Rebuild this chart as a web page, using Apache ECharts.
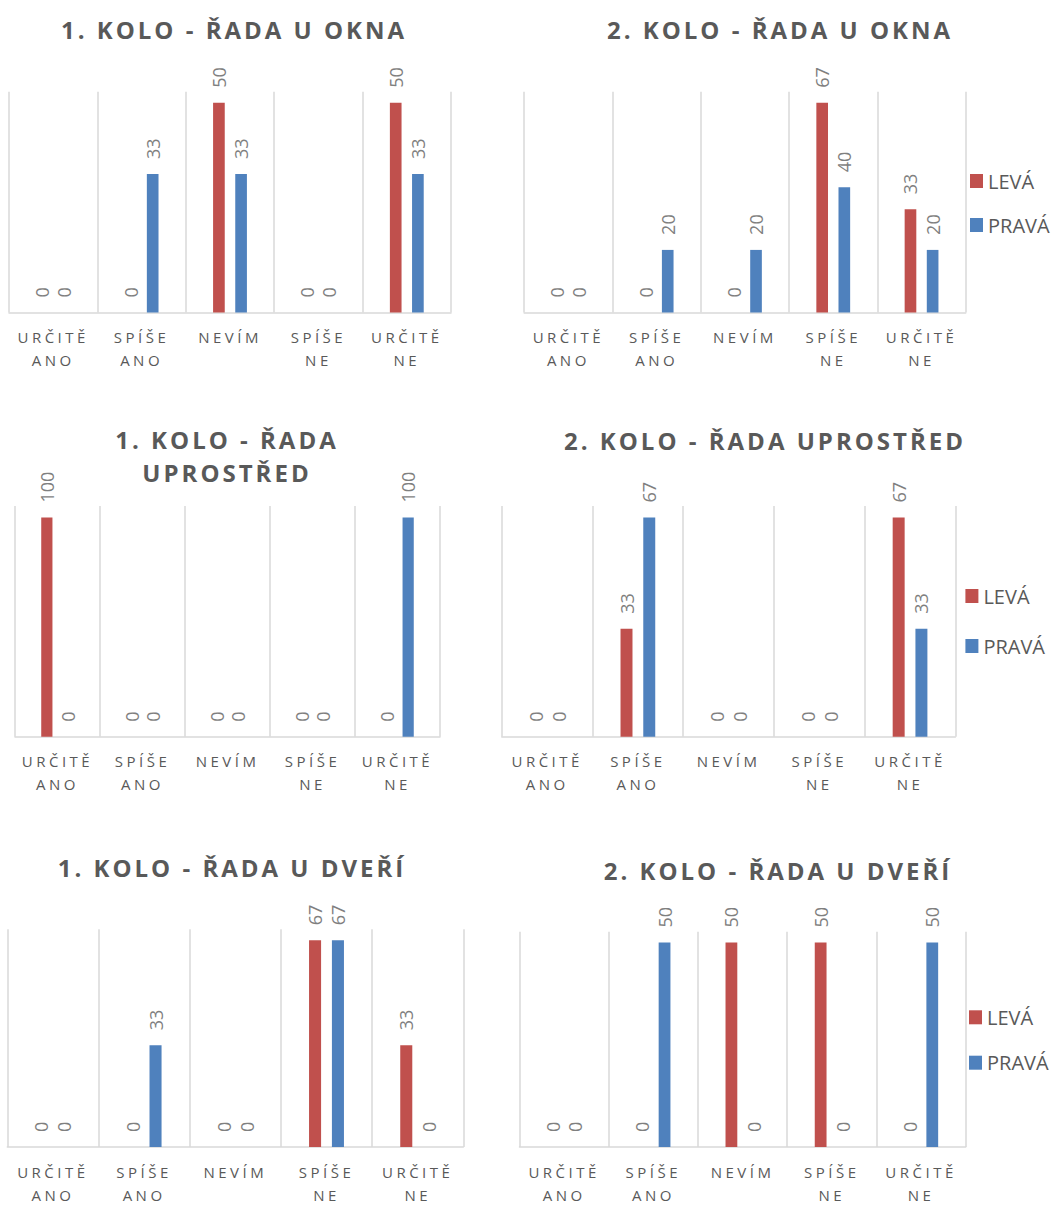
<!DOCTYPE html>
<html><head><meta charset="utf-8">
<script src="https://cdn.jsdelivr.net/npm/echarts@6/dist/echarts.min.js"></script>
<style>
html,body{margin:0;padding:0;background:#fff}
#c{width:1057px;height:1206px}
#c text[style*="24px"]{letter-spacing:3px}
#c text[style*="15px"]{letter-spacing:3.5px}
</style></head><body><div id="c"></div>
<script>
// ---- data ----
const categories = ['URČITĚ\nANO', 'SPÍŠE\nANO', 'NEVÍM', 'SPÍŠE\nNE', 'URČITĚ\nNE'];
const seriesNames = ['LEVÁ', 'PRAVÁ'];
const titles = [
  '1. KOLO - ŘADA U OKNA',
  '2. KOLO - ŘADA U OKNA',
  '1. KOLO - ŘADA\nUPROSTŘED',
  '2. KOLO - ŘADA UPROSTŘED',
  '1. KOLO - ŘADA U DVEŘÍ',
  '2. KOLO - ŘADA U DVEŘÍ'
];
const leva1 = [0, 0, 50, 0, 50];
const prava1 = [0, 33, 33, 0, 33];
const leva2 = [0, 0, 0, 67, 33];
const prava2 = [0, 20, 20, 40, 20];
const leva3 = [100, 0, 0, 0, 0];
const prava3 = [0, 0, 0, 0, 100];
const leva4 = [0, 33, 0, 0, 67];
const prava4 = [0, 67, 0, 0, 33];
const leva5 = [0, 0, 0, 67, 33];
const prava5 = [0, 33, 0, 67, 0];
const leva6 = [0, 0, 50, 50, 0];
const prava6 = [0, 50, 0, 0, 50];
const levaAll = [leva1, leva2, leva3, leva4, leva5, leva6];
const pravaAll = [prava1, prava2, prava3, prava4, prava5, prava6];

// ---- layout / style ----
const RED = '#C0504D', BLUE = '#4F81BD';
const GRID_COLOR = '#d9d9d9', TEXT = '#595959', LABEL = '#7f7f7f';
const FONT = 'Open Sans';
const layout = [
  {grid: {left: 9, top: 91.7, width: 442, height: 220.8}, tx: 234, ty: 12.5, legend: null},
  {grid: {left: 524.2, top: 91.7, width: 441.5, height: 220.8}, tx: 780, ty: 12.5, legend: {left: 970, top: 171, gap: 24}},
  {grid: {left: 15, top: 506, width: 425, height: 230.7}, tx: 227, ty: 423, legend: null},
  {grid: {left: 501.8, top: 506, width: 453.6, height: 230.7}, tx: 765, ty: 423.5, legend: {left: 965.4, top: 586, gap: 30}},
  {grid: {left: 7.3, top: 929.3, width: 456, height: 220.7}, tx: 232, ty: 850.8, legend: null},
  {grid: {left: 519.5, top: 931.7, width: 446.2, height: 219}, tx: 778, ty: 854.2, legend: {left: 969, top: 1007.3, gap: 25.4}}
];

const option = {
  animation: false,
  backgroundColor: '#fff',
  title: [], legend: [], grid: [], xAxis: [], yAxis: [], series: []
};

layout.forEach((L, i) => {
  option.title.push({
    text: titles[i], left: L.tx, top: L.ty, textAlign: 'center', padding: 0,
    textStyle: {fontFamily: FONT, fontSize: 24, fontWeight: 'bold', color: TEXT, lineHeight: 33}
  });
  option.grid.push(Object.assign({containLabel: false}, L.grid));
  option.xAxis.push({
    type: 'category', gridIndex: i, data: categories, boundaryGap: true,
    axisLine: {show: true, lineStyle: {color: GRID_COLOR, width: 1.5}},
    axisTick: {show: false},
    splitLine: {show: true, interval: 0, lineStyle: {color: GRID_COLOR, width: 1.5}},
    axisLabel: {interval: 0, margin: 13, color: TEXT, fontFamily: FONT, fontSize: 15, lineHeight: 23}
  });
  option.yAxis.push({
    type: 'value', gridIndex: i, show: false, min: 0,
    max: v => v.max * 1.053, splitLine: {show: false}
  });
  [levaAll[i], pravaAll[i]].forEach((vals, k) => {
    option.series.push({
      type: 'bar', name: seriesNames[k], xAxisIndex: i, yAxisIndex: i, data: vals,
      barWidth: '13.2%', barGap: '90%',
      itemStyle: {color: k === 0 ? RED : BLUE},
      label: {
        show: true, position: 'top', rotate: 90, align: 'left', verticalAlign: 'middle',
        distance: 15, color: LABEL, fontFamily: FONT, fontSize: 18
      }
    });
  });
  if (L.legend) {
    option.legend.push({
      data: seriesNames, orient: 'vertical', left: L.legend.left, top: L.legend.top,
      padding: 0, itemGap: L.legend.gap, itemWidth: 13, itemHeight: 14, icon: 'rect',
      textStyle: {fontFamily: FONT, fontSize: 20, color: TEXT}
    });
  }
});

const chart = echarts.init(document.getElementById('c'), null, {renderer: 'svg'});
chart.setOption(option);
</script></body></html>
